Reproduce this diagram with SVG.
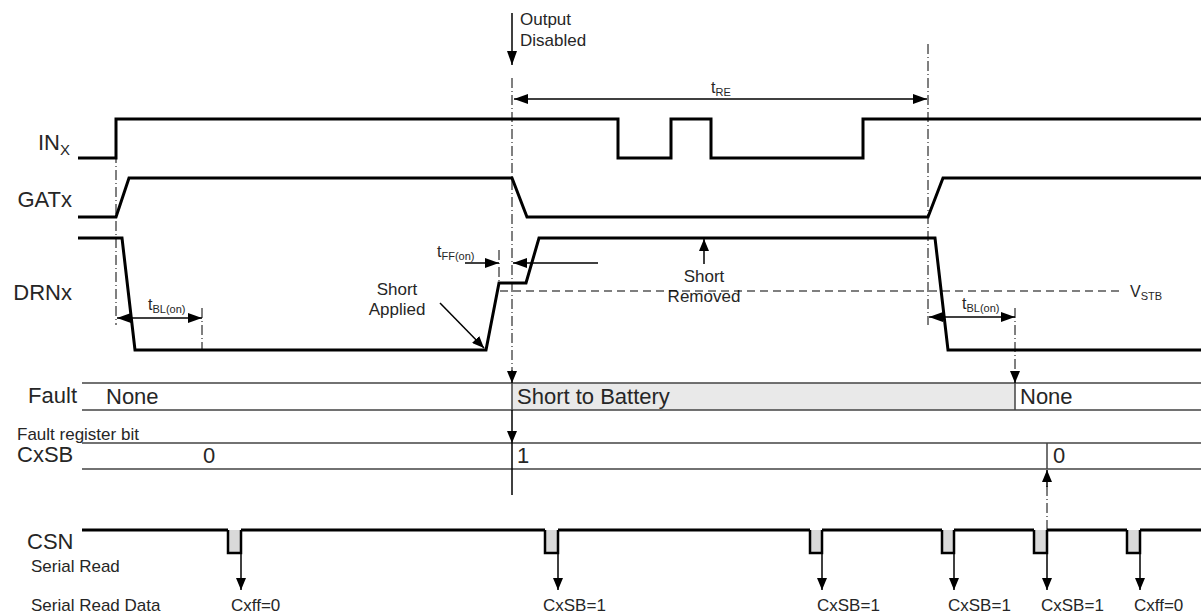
<svg xmlns="http://www.w3.org/2000/svg" width="1201" height="615" viewBox="0 0 1201 615">
<defs>
<style>
text{font-family:"Liberation Sans",Arial,sans-serif;fill:#262626}
.lbl{font-size:22px}
.row{font-size:22px}
.sm{font-size:17px}
.t{font-size:16px}
.sub{font-size:11px}
.wave{fill:none;stroke:#000;stroke-width:3;stroke-linejoin:miter}
.dd{fill:none;stroke:#000;stroke-width:1;stroke-dasharray:10,3,1,3}
.dash{fill:none;stroke:#000;stroke-width:1.2;stroke-dasharray:8,5}
.arr{fill:none;stroke:#000;stroke-width:1.5}
.grid{fill:none;stroke:#444;stroke-width:1.5}
.pulse{fill:#d9d9d9;stroke:#000;stroke-width:2.5}
</style>
<marker id="ah" viewBox="0 0 14 10" refX="14" refY="5" markerWidth="14" markerHeight="10" markerUnits="userSpaceOnUse" orient="auto-start-reverse">
<path d="M0,0 L14,5 L0,10 Z" fill="#000"/>
</marker>
<marker id="ahs" viewBox="0 0 12 10" refX="12" refY="5" markerWidth="12" markerHeight="10" markerUnits="userSpaceOnUse" orient="auto-start-reverse">
<path d="M0,0 L12,5 L0,10 Z" fill="#000"/>
</marker>
</defs>

<g id="labels">
<text class="lbl" x="70" y="150" text-anchor="end">IN<tspan font-size="15" dy="5">X</tspan></text>
<text class="lbl" x="72" y="207" text-anchor="end">GATx</text>
<text class="lbl" x="72" y="300" text-anchor="end">DRNx</text>
<text class="row" x="77" y="403" text-anchor="end">Fault</text>
<text class="sm" x="17" y="440">Fault register bit</text>
<text class="row" x="17" y="462">CxSB</text>
<text class="row" x="27" y="549">CSN</text>
<text class="sm" x="31" y="572">Serial Read</text>
<text class="sm" x="31" y="611">Serial Read Data</text>
</g>

<g id="inx">
<path class="wave" d="M78,158 H116 V119 H618 V158 H671 V119 H711 V158 H863 V119 H1201"/>
</g>
<g id="gatx">
<path class="wave" d="M78,217 H116 L129,178 H512 L527,217 H928 L943,178 H1201"/>
</g>
<g id="drnx">
<path class="wave" d="M78,238 H122 L135,350 H486 L499,283 H526 L539,238 H935 L948,350 H1201"/>
</g>

<g id="fault">
<rect x="512" y="383" width="503" height="27" fill="#e9e9e9"/>
<path class="grid" d="M82,383 H1201 M82,410 H1201 M512,383 V410 M1015,383 V410"/>
<text class="row" x="106" y="404">None</text>
<text class="row" x="517" y="404">Short to Battery</text>
<text class="row" x="1020" y="404">None</text>
</g>

<g id="cxsb">
<path class="grid" d="M82,443 H1201 M82,469 H1201 M1047,443 V469"/>
<text class="row" x="203" y="463">0</text>
<text class="row" x="517" y="463">1</text>
<text class="row" x="1053" y="463">0</text>
</g>

<g id="csn">
<path class="wave" d="M82,530 H228 M241,530 H545 M558,530 H810 M822,530 H942 M954,530 H1034 M1047,530 H1127 M1140,530 H1201" stroke-width="2.5"/>
<path class="pulse" d="M228,530 V553 H241 V530"/>
<path class="pulse" d="M545,530 V553 H558 V530"/>
<path class="pulse" d="M810,530 V553 H822 V530"/>
<path class="pulse" d="M942,530 V553 H954 V530"/>
<path class="pulse" d="M1034,530 V553 H1047 V530"/>
<path class="pulse" d="M1127,530 V553 H1140 V530"/>
<text class="sm" x="231" y="611">Cxff=0</text>
<text class="sm" x="543" y="611">CxSB=1</text>
<text class="sm" x="817" y="611">CxSB=1</text>
<text class="sm" x="948" y="611">CxSB=1</text>
<text class="sm" x="1041" y="611">CxSB=1</text>
<text class="sm" x="1134" y="611">Cxff=0</text>
</g>

<g id="annotations">
<text class="sm" x="520" y="25">Output</text>
<text class="sm" x="520" y="46">Disabled</text>
<text class="t" x="711" y="93">t<tspan class="sub" dy="3">RE</tspan></text>
<text class="t" x="148" y="310">t<tspan class="sub" dy="3">BL(on)</tspan></text>
<text class="t" x="962" y="309">t<tspan class="sub" dy="3">BL(on)</tspan></text>
<text class="t" x="437" y="257">t<tspan class="sub" dy="3">FF(on)</tspan></text>
<text class="sm" x="397" y="295" text-anchor="middle">Short</text>
<text class="sm" x="397" y="315" text-anchor="middle">Applied</text>
<text class="sm" x="704" y="282" text-anchor="middle">Short</text>
<text class="sm" x="704" y="302" text-anchor="middle">Removed</text>
<text class="t" x="1130" y="297">V<tspan class="sub" dy="3">STB</tspan></text>
</g>

<g id="connectors">
<path class="dd" d="M116,119 V325"/>
<path class="dd" d="M512,78 V370"/>
<path class="dd" d="M928,44 V325"/>
<path class="dd" d="M202,308 V350"/>
<path class="dd" d="M1015,308 V372"/>
<path class="dd" d="M499,250 V283"/>
<path class="dd" d="M1047,530 V485"/>
<path class="dash" d="M500,291 H1122"/>
<path class="arr" d="M512,13 V65" marker-end="url(#ah)"/>
<path class="arr" d="M514,99 H927" marker-start="url(#ah)" marker-end="url(#ah)"/>
<path class="arr" d="M117,318 H202" marker-start="url(#ah)" marker-end="url(#ah)"/>
<path class="arr" d="M929,317 H1015" marker-start="url(#ah)" marker-end="url(#ah)"/>
<path class="arr" d="M465,263 H499" marker-end="url(#ah)"/>
<path class="arr" d="M598,263 H513" marker-end="url(#ah)"/>
<path class="arr" d="M440,303 L484,348" marker-end="url(#ahs)"/>
<path class="arr" d="M704,264 V239" marker-end="url(#ahs)"/>
<path d="M512,370 V383" class="arr" marker-end="url(#ahs)"/>
<path d="M1015,372 V383" class="arr" marker-end="url(#ahs)"/>
<path d="M512,410 V443" class="arr" stroke="#444" marker-end="url(#ahs)"/>
<path d="M512,443 V495" class="arr" stroke="#444"/>
<path d="M1047,487 V470" class="arr" marker-end="url(#ahs)"/>
<path class="arr" d="M241,553 V590" marker-end="url(#ahs)"/>
<path class="arr" d="M558,553 V590" marker-end="url(#ahs)"/>
<path class="arr" d="M822,553 V590" marker-end="url(#ahs)"/>
<path class="arr" d="M954,553 V590" marker-end="url(#ahs)"/>
<path class="arr" d="M1047,553 V590" marker-end="url(#ahs)"/>
<path class="arr" d="M1140,553 V590" marker-end="url(#ahs)"/>
</g>
</svg>
